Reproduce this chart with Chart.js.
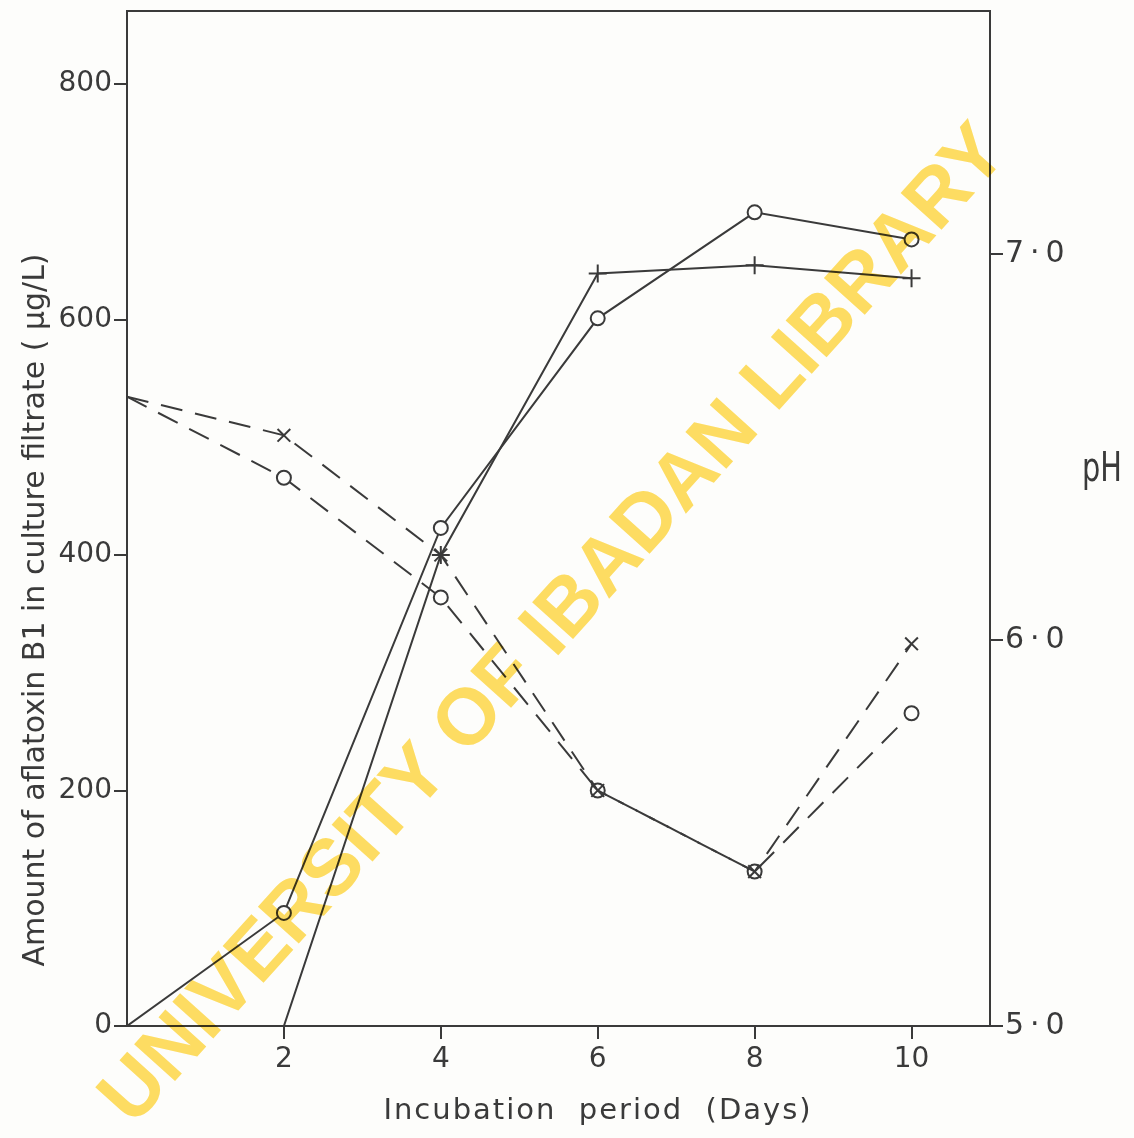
<!DOCTYPE html>
<html>
<head>
<meta charset="utf-8">
<script src="https://cdn.jsdelivr.net/npm/chart.js@4.4.1/dist/chart.umd.min.js"></script>
<style>
  html, body { margin: 0; background: #fdfdfb; }
  #wrap { width: 1134px; height: 1138px; }
</style>
</head>
<body>
<div id="wrap"><canvas id="chart"></canvas></div>
<script>
// values
const days = [0, 2, 4, 6, 8, 10];
const aflatoxinCircle = [0, 96, 423, 601, 691, 668];     // solid line, open circles
const daysCross = [2, 4, 6, 8, 10];
const aflatoxinCross = [0, 400, 639, 646, 635];          // solid line, crosses
const phCross = [6.63, 6.53, 6.22, 5.61, 5.40, 5.99];   // dashed line, crosses
const phCircle = [6.63, 6.42, 6.11, 5.61, 5.40, 5.81];  // dashed line, open circles

const dayTicks = [2, 4, 6, 8, 10];
const aflatoxinTicks = [0, 200, 400, 600, 800];
const phTicks = [5, 6, 7];

const ink = '#3a3a3a';
const fontFamily = '"DejaVu Sans", sans-serif';

const pts = (xs, ys) => xs.map((x, i) => ({ x: x, y: ys[i] }));
const keepTicks = list => scale => {
  scale.ticks = list.map(v => ({ value: v }));
};
const fixWidth = w => s => {
  s.width = w;
  s.paddingTop = 0;
  s.paddingBottom = 0;
};

// titles, top border and the library watermark
const extras = {
  id: 'extras',
  afterDraw(chart) {
    const ctx = chart.ctx;
    const area = chart.chartArea;
    ctx.save();
    ctx.strokeStyle = ink;
    ctx.lineWidth = 2;
    ctx.beginPath();
    ctx.moveTo(area.left, area.top);
    ctx.lineTo(area.right, area.top);
    ctx.stroke();

    ctx.fillStyle = ink;
    ctx.textAlign = 'center';
    ctx.textBaseline = 'middle';

    ctx.font = '30px ' + fontFamily;
    ctx.save();
    ctx.translate(36, 610);
    ctx.rotate(-Math.PI / 2);
    ctx.fillText('Amount of aflatoxin B1 in culture filtrate ( µg/L)', 0, 0);
    ctx.restore();

    ctx.font = '29px ' + fontFamily;
    ctx.letterSpacing = '2px';
    ctx.fillText('Incubation  period  (Days)', 598, 1111);
    ctx.letterSpacing = '0px';

    ctx.font = '36px ' + fontFamily;
    ctx.save();
    ctx.translate(1102, 470);
    ctx.scale(0.8, 1.15);
    ctx.fillText('pH', 0, 0);
    ctx.restore();

    // watermark
    ctx.save();
    ctx.globalCompositeOperation = 'multiply';
    ctx.fillStyle = '#fddc62';
    ctx.translate(555, 626);
    ctx.rotate(-48 * Math.PI / 180);
    ctx.font = 'bold 80px "Liberation Sans", Arial, sans-serif';
    const label = 'UNIVERSITY OF IBADAN LIBRARY';
    const w = ctx.measureText(label).width;
    ctx.scale(1310 / w, 1);
    ctx.fillText(label, 0, 0);
    ctx.restore();
    ctx.restore();
  }
};

const axisCommon = {
  grid: { drawOnChartArea: false, drawTicks: true, tickLength: 13, color: ink, lineWidth: 2 },
  border: { color: ink, width: 2 },
  ticks: { color: ink, font: { family: fontFamily, size: 28 } }
};

new Chart(document.getElementById('chart'), {
  type: 'line',
  data: {
    datasets: [
      {
        data: pts(days, aflatoxinCircle),
        yAxisID: 'y',
        borderColor: ink,
        borderWidth: 2,
        pointStyle: 'circle',
        pointRadius: [0, 7, 7, 7, 7, 7],
        pointBorderColor: ink,
        pointBackgroundColor: '#fdfdfb',
        pointBorderWidth: 2
      },
      {
        data: pts(daysCross, aflatoxinCross),
        yAxisID: 'y',
        borderColor: ink,
        borderWidth: 2,
        pointStyle: 'cross',
        pointRadius: [0, 9, 9, 9, 9],
        pointBorderColor: ink,
        pointBorderWidth: 2
      },
      {
        data: pts(days, phCross),
        yAxisID: 'y2',
        borderColor: ink,
        borderWidth: 2,
        borderDash: [22, 13],
        pointStyle: 'crossRot',
        pointRadius: [0, 9, 9, 9, 9, 9],
        pointBorderColor: ink,
        pointBorderWidth: 2
      },
      {
        data: pts(days, phCircle),
        yAxisID: 'y2',
        borderColor: ink,
        borderWidth: 2,
        borderDash: [22, 13],
        pointStyle: 'circle',
        pointRadius: [0, 7, 7, 7, 7, 7],
        pointBorderColor: ink,
        pointBackgroundColor: '#fdfdfb',
        pointBorderWidth: 2
      }
    ]
  },
  options: {
    responsive: true,
    maintainAspectRatio: false,
    animation: false,
    layout: { padding: { top: 10, left: 0, right: 0, bottom: 0 } },
    plugins: { legend: { display: false }, tooltip: { enabled: false } },
    elements: { line: { tension: 0 } },
    scales: {
      x: {
        ...axisCommon,
        type: 'linear',
        min: 0,
        max: 11,
        afterBuildTicks: keepTicks(dayTicks),
        afterFit: s => { s.height = 112; s.paddingLeft = 0; s.paddingRight = 0; },
        ticks: { ...axisCommon.ticks, padding: 4 }
      },
      y: {
        ...axisCommon,
        position: 'left',
        min: 0,
        max: 862,
        afterBuildTicks: keepTicks(aflatoxinTicks),
        afterFit: fixWidth(127),
        ticks: { ...axisCommon.ticks, padding: 2 }
      },
      y2: {
        ...axisCommon,
        position: 'right',
        min: 5,
        max: 7.629,
        afterBuildTicks: keepTicks(phTicks),
        afterFit: fixWidth(144),
        ticks: {
          ...axisCommon.ticks,
          font: { family: fontFamily, size: 30 },
          padding: 2,
          callback: v => v.toFixed(1).replace('.', '\u2009·\u2009')
        }
      }
    }
  },
  plugins: [extras]
});
</script>
</body>
</html>
